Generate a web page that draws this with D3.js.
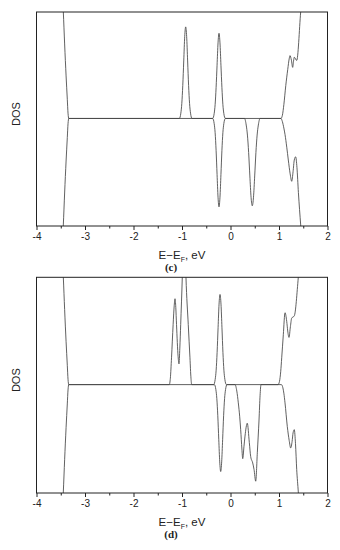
<!DOCTYPE html>
<html>
<head>
<meta charset="utf-8">
<script src="https://cdn.jsdelivr.net/npm/d3@7"></script>
<style>
  html, body { margin: 0; padding: 0; background: #fff; }
  svg { display: block; }
</style>
</head>
<body>
<svg id="chart" width="340" height="550"></svg>
<script>
// ---- data (energy in eV, DOS in arbitrary units) ----
const energyTicks = [-4, -3, -2, -1, 0, 1, 2];
const minorTicks = [-3.5, -2.5, -1.5, -0.5, 0.5, 1.5];
const dosDomain = [-10.1, 10];

// panel (c), spin up
const cUp = [
  [-3.48, 13], [-3.447, 10], [-3.42, 7], [-3.39, 4], [-3.365, 1.8], [-3.35, 0.5], [-3.335, 0],
  [-1.054, 0], [-1.024, 0.5], [-1.004, 1.4], [-0.984, 3.1], [-0.964, 5.4], [-0.944, 7.7], [-0.924, 8.6],
  [-0.904, 7.7], [-0.884, 5.4], [-0.864, 3.1], [-0.844, 1.4], [-0.824, 0.5], [-0.794, 0],
  [-0.367, 0], [-0.337, 0.45], [-0.317, 1.3], [-0.297, 2.9], [-0.277, 5.0], [-0.257, 7.1], [-0.237, 8.0],
  [-0.217, 7.1], [-0.197, 5.0], [-0.177, 2.9], [-0.157, 1.3], [-0.137, 0.45], [-0.107, 0],
  [1.04, 0], [1.07, 0.3], [1.1, 1.3], [1.14, 3.1], [1.18, 4.6], [1.21, 5.6], [1.227, 5.9],
  [1.255, 5.5], [1.282, 4.8], [1.30, 5.4], [1.315, 5.75], [1.365, 5.45], [1.447, 10], [1.5, 13]
];

// panel (c), spin down
const cDown = [
  [-3.48, -13], [-3.447, -10], [-3.42, -7], [-3.39, -4], [-3.365, -1.8], [-3.35, -0.5], [-3.335, 0],
  [-0.367, 0], [-0.337, -0.47], [-0.317, -1.33], [-0.297, -3.0], [-0.277, -5.25], [-0.257, -7.4], [-0.237, -8.3],
  [-0.217, -7.4], [-0.197, -5.25], [-0.177, -3.0], [-0.157, -1.33], [-0.137, -0.47], [-0.107, 0],
  [0.289, 0], [0.324, -0.62], [0.349, -1.56], [0.374, -3.2], [0.399, -5.4], [0.424, -7.4], [0.449, -8.2],
  [0.474, -7.4], [0.499, -5.4], [0.524, -3.2], [0.549, -1.56], [0.574, -0.62], [0.609, 0],
  [1.04, 0], [1.07, -0.3], [1.1, -0.9], [1.124, -1.5], [1.16, -2.7], [1.192, -3.9], [1.23, -5.2],
  [1.262, -5.9], [1.29, -5.0], [1.315, -3.9], [1.344, -3.6], [1.37, -4.6], [1.40, -6.95], [1.447, -10], [1.5, -13]
];

// panel (d), spin up
const dUp = [
  [-3.48, 13], [-3.447, 10], [-3.42, 7], [-3.39, 4], [-3.365, 1.8], [-3.35, 0.5], [-3.335, 0],
  [-1.262, 0], [-1.24, 0.6], [-1.216, 2.5], [-1.183, 5.6], [-1.16, 7.4], [-1.144, 8.0], [-1.128, 7.2],
  [-1.113, 5.6], [-1.08, 2.6], [-1.062, 1.93], [-1.045, 3.4], [-1.027, 5.6], [-0.994, 10], [-0.975, 13],
  [-0.956, 14], [-0.937, 13], [-0.918, 10], [-0.871, 5.6], [-0.836, 2.5], [-0.815, 0.6], [-0.80, 0],
  [-0.346, 0], [-0.316, 0.48], [-0.296, 1.34], [-0.276, 3.0], [-0.256, 5.3], [-0.236, 7.5], [-0.216, 8.4],
  [-0.196, 7.5], [-0.176, 5.3], [-0.156, 3.0], [-0.136, 1.34], [-0.116, 0.48], [-0.086, 0],
  [0.98, 0], [1.01, 0.3], [1.035, 1.2], [1.056, 2.5], [1.089, 4.65], [1.124, 6.7], [1.159, 5.9],
  [1.18, 5.0], [1.206, 4.4], [1.235, 5.4], [1.262, 6.2], [1.315, 6.4], [1.398, 10], [1.45, 13]
];

// panel (d), spin down
const dDown = [
  [-3.48, -13], [-3.447, -10], [-3.42, -7], [-3.39, -4], [-3.365, -1.8], [-3.35, -0.5], [-3.335, 0],
  [-0.332, 0], [-0.302, -0.46], [-0.282, -1.3], [-0.262, -2.9], [-0.242, -5.1], [-0.222, -7.2], [-0.202, -8.1],
  [-0.182, -7.2], [-0.162, -5.1], [-0.142, -2.9], [-0.122, -1.3], [-0.102, -0.46], [-0.072, 0],
  [0.093, 0], [0.13, -0.6], [0.161, -1.7], [0.19, -3.0], [0.21, -4.2], [0.235, -6.0], [0.252, -6.9],
  [0.278, -5.75], [0.299, -4.8], [0.346, -3.6], [0.388, -5.4], [0.416, -6.7], [0.458, -7.3], [0.485, -7.9],
  [0.52, -9.0], [0.553, -6.35], [0.588, -3.3], [0.61, -1.0], [0.629, 0],
  [1.05, 0], [1.08, -0.3], [1.10, -0.8], [1.124, -1.7], [1.171, -3.9], [1.21, -5.2], [1.241, -5.9],
  [1.27, -5.3], [1.29, -4.5], [1.315, -4.2], [1.34, -5.5], [1.365, -7.9], [1.398, -10], [1.44, -13]
];

const panels = [
  { id: "c", label: "(c)", top: 12, bottom: 226, series: [cUp, cDown] },
  { id: "d", label: "(d)", top: 277.3, bottom: 493, series: [dUp, dDown] }
];

// ---- drawing ----
const svg = d3.select("#chart");
const LEFT = 36.5, RIGHT = 327.5;
const INK = "#222";

panels.forEach(p => drawPanel(p));

function drawPanel(p) {
  const x = d3.scaleLinear().domain([-4, 2]).range([LEFT, RIGHT]);
  const y = d3.scaleLinear().domain(dosDomain).range([p.bottom, p.top]);
  const g = svg.append("g").attr("class", "panel-" + p.id);

  // clip curves to the plot box
  const clipId = "clip-" + p.id;
  g.append("clipPath").attr("id", clipId)
    .append("rect")
    .attr("x", LEFT).attr("y", p.top)
    .attr("width", RIGHT - LEFT).attr("height", p.bottom - p.top);

  const line = d3.line()
    .x(d => x(d[0]))
    .y(d => y(d[1]))
    .curve(d3.curveMonotoneX);

  const curves = g.append("g").attr("clip-path", `url(#${clipId})`);
  p.series.forEach(s => {
    curves.append("path")
      .datum(s)
      .attr("d", line)
      .attr("fill", "none")
      .attr("stroke", "#444")
      .attr("stroke-width", 0.85);
  });

  // frame
  g.append("rect")
    .attr("x", LEFT).attr("y", p.top)
    .attr("width", RIGHT - LEFT).attr("height", p.bottom - p.top)
    .attr("fill", "none").attr("stroke", INK).attr("stroke-width", 1);

  // major ticks + labels
  const ax = d3.axisBottom(x)
    .tickValues(energyTicks)
    .tickSize(4)
    .tickPadding(3)
    .tickFormat(d => String(d));
  const axG = g.append("g").attr("transform", `translate(0,${p.bottom})`).call(ax);
  axG.select(".domain").remove();
  axG.selectAll(".tick line").attr("stroke", INK);
  axG.selectAll(".tick text")
    .attr("fill", INK)
    .style("font-family", "'Liberation Sans', Arial, sans-serif")
    .style("font-size", "10px");

  // minor ticks
  const mn = d3.axisBottom(x).tickValues(minorTicks).tickSize(2.5).tickFormat("");
  const mnG = g.append("g").attr("transform", `translate(0,${p.bottom})`).call(mn);
  mnG.select(".domain").remove();
  mnG.selectAll(".tick line").attr("stroke", INK);

  // axis titles
  const cx = (LEFT + RIGHT) / 2;
  const xt = g.append("text")
    .attr("x", cx).attr("y", p.bottom + 33)
    .attr("text-anchor", "middle")
    .attr("fill", INK)
    .style("font-family", "'Liberation Sans', Arial, sans-serif")
    .style("font-size", "11.5px");
  xt.append("tspan").text("E\u2212E");
  xt.append("tspan").attr("dy", 2.5).style("font-size", "7px").text("F");
  xt.append("tspan").attr("dy", -2.5).text(", eV");

  g.append("text")
    .attr("transform", `translate(19.5,${(p.top + p.bottom) / 2 - 5}) rotate(-90)`)
    .attr("text-anchor", "middle")
    .attr("fill", INK)
    .style("font-family", "'Liberation Sans', Arial, sans-serif")
    .style("font-size", "11px")
    .text("DOS");

  g.append("text")
    .attr("x", 171).attr("y", p.bottom + 45)
    .attr("text-anchor", "middle")
    .attr("fill", INK)
    .style("font-family", "'Liberation Serif', 'Times New Roman', serif")
    .style("font-weight", "bold")
    .style("font-size", "11px")
    .text(p.label);
}
</script>
</body>
</html>
